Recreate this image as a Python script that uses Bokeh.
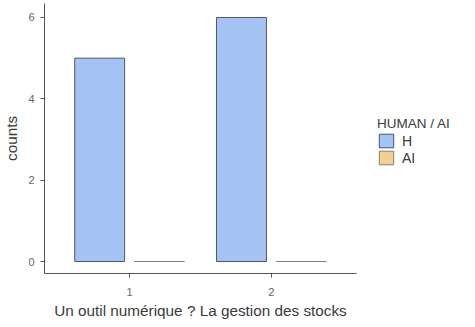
from bokeh.plotting import figure
from bokeh.models import ColumnDataSource, Legend, LegendItem, FixedTicker, Range1d
from bokeh.transform import dodge
from bokeh.embed import file_html
from bokeh.resources import INLINE

# data
categories = [1, 2]
human_counts = [5, 6]
ai_counts = [0, 0]
tick_labels = {1: "1", 2: "2"}
legend_title = "HUMAN / AI"
series_names = ["H", "AI"]
colors = ["#a4c2f4", "#f5cf8e"]
outline = "#4f5768"

src = ColumnDataSource(data=dict(x=categories, h=human_counts, ai=ai_counts))

FONT = "Liberation Sans"
p = figure(frame_width=312, frame_height=270, output_backend="svg", toolbar_location=None,
           x_range=Range1d(0.4, 2.6), y_range=Range1d(-0.295, 6.344),
           min_border_left=40, min_border_right=107, min_border_top=3, min_border_bottom=46)
p.background_fill_color = "white"
p.border_fill_color = "white"
p.outline_line_color = None
p.grid.visible = False

bw = 0.352
r_h = p.vbar(x=dodge("x", -0.211, range=p.x_range), top="h", bottom=0, width=bw, source=src,
             fill_color=colors[0], line_color=outline, line_width=1)
r_ai = p.vbar(x=dodge("x", 0.211, range=p.x_range), top="ai", bottom=0, width=bw, source=src,
              fill_color=colors[1], line_color="#808080", line_width=1)

for ax in (p.xaxis[0], p.yaxis[0]):
    ax.axis_line_color = "#555555"
    ax.axis_line_width = 1
    ax.major_tick_line_color = "#555555"
    ax.major_tick_out = 4
    ax.major_tick_in = 0
    ax.minor_tick_line_color = None
    ax.major_label_text_font = FONT
    ax.major_label_text_font_size = "11px"
    ax.major_label_text_color = "#666666"
    ax.major_label_standoff = 6
    ax.axis_label_text_font = FONT
    ax.axis_label_text_font_size = "15.3px"
    ax.axis_label_text_color = "#3a3a3a"
    ax.axis_label_text_font_style = "normal"

p.xaxis.ticker = FixedTicker(ticks=categories)
p.xaxis.major_label_overrides = tick_labels
p.xaxis.major_label_standoff = 10
p.xaxis.axis_label = "Un outil numérique ? La gestion des stocks"
p.xaxis.axis_label_standoff = 3
p.yaxis.ticker = FixedTicker(ticks=[0, 2, 4, 6])
p.yaxis.axis_label = "counts"
p.yaxis.axis_label_standoff = 5

legend = Legend(items=[LegendItem(label=series_names[0], renderers=[r_h]),
                       LegendItem(label=series_names[1], renderers=[r_ai])],
                title=legend_title, location=(21, 107))
legend.title_text_font = FONT
legend.title_text_font_size = "13.5px"
legend.title_text_color = "#3a3a3a"
legend.title_text_font_style = "normal"
legend.title_standoff = 1
legend.label_text_font = FONT
legend.label_text_font_size = "14px"
legend.label_text_color = "#3a3a3a"
legend.glyph_width = 18
legend.glyph_height = 17
legend.label_height = 17
legend.label_standoff = 7
legend.spacing = 0
legend.padding = 0
legend.margin = 0
legend.border_line_color = None
legend.background_fill_alpha = 0
p.add_layout(legend, "right")

open("out.html", "w").write(file_html(p, INLINE))
